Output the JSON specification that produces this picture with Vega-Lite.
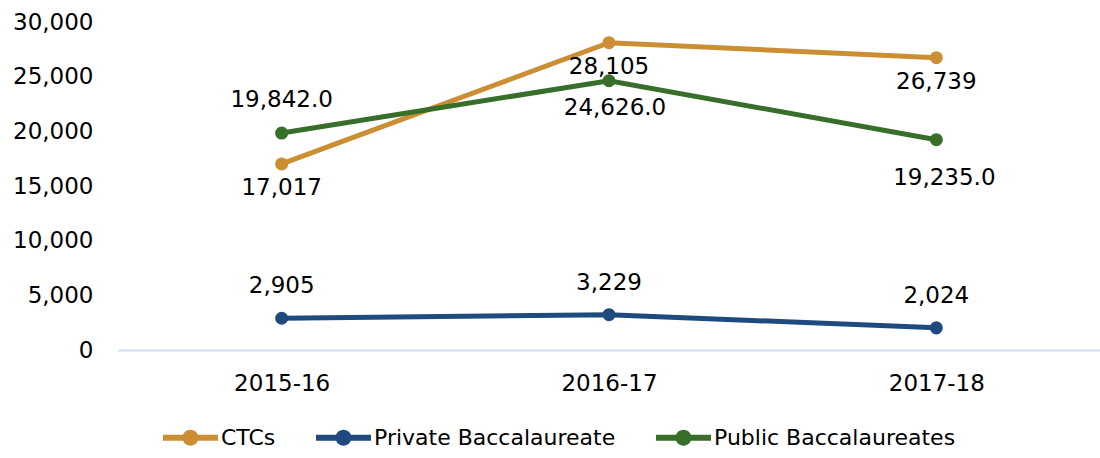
{
  "$schema": "https://vega.github.io/schema/vega-lite/v6.json",
  "width": 982,
  "height": 328,
  "autosize": {"type": "none"},
  "padding": {"left": 118, "top": 22, "right": 0, "bottom": 108},
  "background": "white",
  "config": {
    "view": {"stroke": null},
    "font": "DejaVu Sans",
    "axis": {"labelFont": "DejaVu Sans", "labelFontSize": 23, "labelColor": "#000000", "title": null}
  },
  "data": {
    "values": [
      {"year": "2015-16", "series": "CTCs", "value": 17017},
      {"year": "2016-17", "series": "CTCs", "value": 28105},
      {"year": "2017-18", "series": "CTCs", "value": 26739},
      {"year": "2015-16", "series": "Private Baccalaureate", "value": 2905},
      {"year": "2016-17", "series": "Private Baccalaureate", "value": 3229},
      {"year": "2017-18", "series": "Private Baccalaureate", "value": 2024},
      {"year": "2015-16", "series": "Public Baccalaureates", "value": 19842},
      {"year": "2016-17", "series": "Public Baccalaureates", "value": 24626},
      {"year": "2017-18", "series": "Public Baccalaureates", "value": 19235}
    ]
  },
  "encoding": {
    "x": {
      "field": "year", "type": "ordinal",
      "scale": {"type": "point", "padding": 0.5},
      "axis": {"labelAngle": 0, "ticks": false, "domainColor": "#D0DEEF", "domainWidth": 2, "labelPadding": 22}
    },
    "y": {
      "field": "value", "type": "quantitative",
      "scale": {"domain": [0, 30000], "nice": false},
      "axis": {"values": [0, 5000, 10000, 15000, 20000, 25000, 30000], "format": ",.0f", "domain": false, "ticks": false, "grid": false, "labelPadding": 25}
    }
  },
  "layer": [
    {
      "mark": {"type": "line", "strokeWidth": 5},
      "encoding": {
        "color": {
          "field": "series", "type": "nominal",
          "scale": {"domain": ["CTCs", "Private Baccalaureate", "Public Baccalaureates"], "range": ["#CB8E33", "#1F4A7E", "#376E2A"]},
          "legend": {
            "title": null, "orient": "none", "direction": "horizontal",
            "legendX": 45, "legendY": 388,
            "symbolType": "M-1,-0.11H1V0.11H-1Z M-0.29,0A0.29,0.29 0 1,1 0.29,0A0.29,0.29 0 1,1 -0.29,0Z",
            "symbolSize": 3025, "symbolStrokeWidth": 0, "symbolOpacity": 1,
            "labelFont": "DejaVu Sans",
            "labelFontSize": 22, "labelColor": "#000000", "labelOffset": 3, "columnPadding": 40, "labelLimit": 400,
            "encode": {"symbols": {"update": {"fill": {"scale": "color", "field": "value"}, "fillOpacity": {"value": 1}}}}
          }
        }
      }
    },
    {
      "mark": {"type": "point", "filled": true, "size": 170, "opacity": 1},
      "encoding": {"color": {"field": "series", "type": "nominal"}}
    },
    {
      "transform": [{"filter": "datum.series === 'CTCs'"}],
      "mark": {"type": "text", "dy": 24, "fontSize": 23, "baseline": "middle"},
      "encoding": {"text": {"field": "value", "type": "quantitative", "format": ",.0f"}, "color": {"value": "#000000"}}
    },
    {
      "transform": [{"filter": "datum.series === 'Private Baccalaureate'"}],
      "mark": {"type": "text", "dy": -32, "fontSize": 23, "baseline": "middle"},
      "encoding": {"text": {"field": "value", "type": "quantitative", "format": ",.0f"}, "color": {"value": "#000000"}}
    },
    {
      "transform": [{"filter": "datum.series === 'Public Baccalaureates' && datum.year === '2015-16'"}],
      "mark": {"type": "text", "dy": -33, "fontSize": 23, "baseline": "middle"},
      "encoding": {"text": {"field": "value", "type": "quantitative", "format": ",.1f"}, "color": {"value": "#000000"}}
    },
    {
      "transform": [{"filter": "datum.series === 'Public Baccalaureates' && datum.year === '2016-17'"}],
      "mark": {"type": "text", "dy": 27, "dx": 6, "fontSize": 23, "baseline": "middle"},
      "encoding": {"text": {"field": "value", "type": "quantitative", "format": ",.1f"}, "color": {"value": "#000000"}}
    },
    {
      "transform": [{"filter": "datum.series === 'Public Baccalaureates' && datum.year === '2017-18'"}],
      "mark": {"type": "text", "dy": 38, "dx": 8, "fontSize": 23, "baseline": "middle"},
      "encoding": {"text": {"field": "value", "type": "quantitative", "format": ",.1f"}, "color": {"value": "#000000"}}
    }
  ]
}
